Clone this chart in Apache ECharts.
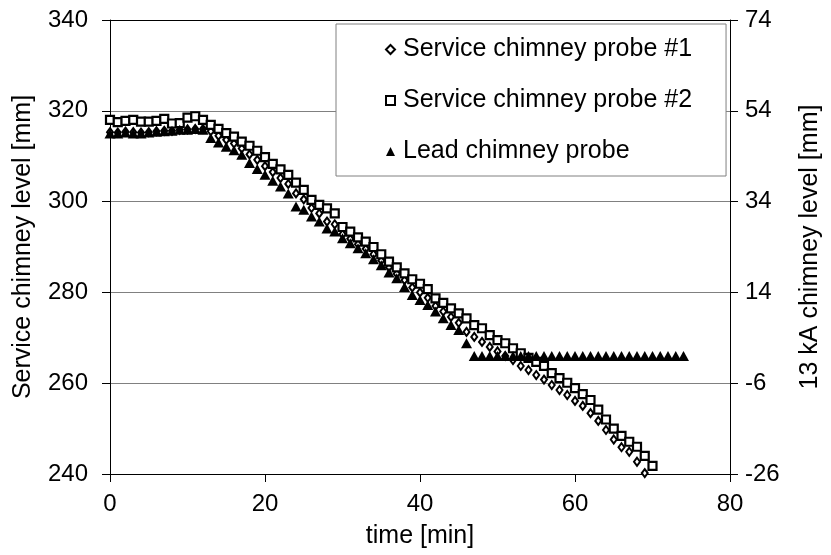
<!DOCTYPE html>
<html>
<head>
<meta charset="utf-8">
<script src="https://cdn.jsdelivr.net/npm/echarts@6/dist/echarts.min.js"></script>
<style>html,body{margin:0;padding:0;background:#fff;}#chart{width:831px;height:555px;}</style>
</head>
<body>
<div id="chart"></div>
<script>
// time [min] for each series
const timeProbe1 = [0,1,2,3,4,5,6,7,8,9,10,11,12,13,14,15,16,17,18,19,20,21,22,23,24,25,26,27,28,29,30,31,32,33,34,35,36,37,38,39,40,41,42,43,44,45,46,47,48,49,50,51,52,53,54,55,56,57,58,59,60,61,62,63,64,65,66,67,68,69];
const timeProbe2 = [0,1,2,3,4,5,6,7,8,9,10,11,12,13,14,15,16,17,18,19,20,21,22,23,24,25,26,27,28,29,30,31,32,33,34,35,36,37,38,39,40,41,42,43,44,45,46,47,48,49,50,51,52,53,54,55,56,57,58,59,60,61,62,63,64,65,66,67,68,69,70];
const timeLead = [0,1,2,3,4,5,6,7,8,9,10,11,12,13,14,15,16,17,18,19,20,21,22,23,24,25,26,27,28,29,30,31,32,33,34,35,36,37,38,39,40,41,42,43,44,45,46,47,48,49,50,51,52,53,54,55,56,57,58,59,60,61,62,63,64,65,66,67,68,69,70,71,72,73,74];

// Service chimney level [mm] (left axis)
const serviceProbe1 = [315.3,315.2,315.4,315.3,315.2,315.3,315.5,315.6,315.6,315.8,315.9,316,316,
  315.5,314.5,313.6,312.8,311.7,310.4,309.2,307.8,306.5,305.2,303.9,301.8,300.5,298.6,297.4,295.6,295,
  292.8,291.8,290.6,289.6,288.4,287,285.5,284.1,282.7,281.1,280,278.8,277,275.8,274.6,273.3,
  271.3,270.2,269.1,268,267,266,265.1,263.8,262.9,261.8,260.8,259.6,258.5,257.4,256.1,255,253.4,251.7,249.7,247.6,245.9,244.9,242.7,240.2];
const serviceProbe2 = [318,317.5,317.8,318,317.6,317.6,317.8,318.2,317.2,317.3,318.5,318.8,318,
  316.9,316,315.1,314.3,313.2,312.3,311.2,309.8,308.3,307.1,305.9,304.2,302.6,300.4,299.3,298.5,297.4,
  294.4,293.4,292.1,291.2,290,288.4,286.8,285.5,284.2,282.9,281.9,280.7,278.7,277.7,276.5,275.4,
  274.3,272.8,272.1,270.6,269.5,268.8,267.7,266.6,265.6,264.7,263.8,262.2,261.1,260.1,258.9,257.6,256.3,254.2,252,250,248.4,247.1,246,244,241.8];
// 13 kA chimney level [mm] (right axis)
const leadProbe = [49,49,49.2,49,49,49.2,49.4,49.5,49.6,49.8,49.8,50,49.8,
  48,47,46.1,45.3,44.3,42.5,41.2,39.9,38.6,37.3,35.8,32.9,32.2,30.7,29.6,28.1,27.4,
  25.9,24.8,23.7,22.6,21.3,20,18.4,17.1,15.2,13.4,12.3,11.2,9.8,8.3,6.8,5.7,2.8,
  0,0,0,0,0,0,0,0,0,0,0,0,0,0,0,0,0,0,0,0,0,0,0,0,0,0,0,0];

const leftTicks = [240,260,280,300,320,340];
const rightTicks = [-26,-6,14,34,54,74];
const xTicks = [0,20,40,60,80];

const names = ['Service chimney probe #1','Service chimney probe #2','Lead chimney probe'];
const FONT = "'Liberation Sans', Arial, sans-serif";

function pairs(t, v){ return t.map((x,i)=>[x, v[i]]); }

const chart = echarts.init(document.getElementById('chart'), null, {renderer:'canvas'});
chart.setOption({
  animation:false,
  backgroundColor:'#fff',
  textStyle:{fontFamily:FONT, color:'#000'},
  grid:{left:110, right:94, top:20, bottom:81},
  legend:{
    orient:'vertical', left:336, top:24,
    padding:[13,34,12,49], itemGap:26, itemWidth:9, itemHeight:9,
    backgroundColor:'#fff', borderColor:'#808080', borderWidth:1,
    textStyle:{fontSize:25, fontFamily:FONT, color:'#000', padding:[0,0,0,3]},
    data:[{name:names[0], icon:'diamond'},{name:names[1], icon:'rect'},{name:names[2], icon:'triangle'}],
    z:10
  },
  xAxis:[{
    type:'value', min:xTicks[0], max:xTicks[xTicks.length-1], interval:20,
    name:'time [min]', nameLocation:'middle', nameGap:50,
    nameTextStyle:{fontSize:25, fontFamily:FONT, color:'#000'},
    axisLine:{show:true, onZero:false, lineStyle:{color:'#000', width:1}},
    axisTick:{show:true, inside:false, length:8, lineStyle:{color:'#000'}},
    axisLabel:{fontSize:24, fontFamily:FONT, color:'#000', margin:18},
    splitLine:{show:false}
  },{
    type:'value', position:'top', min:xTicks[0], max:xTicks[xTicks.length-1], interval:20,
    axisLine:{show:true, onZero:false, lineStyle:{color:'#000', width:1}},
    axisTick:{show:false}, axisLabel:{show:false}, splitLine:{show:false}
  }],
  yAxis:[{
    type:'value', position:'left', min:leftTicks[0], max:leftTicks[leftTicks.length-1], interval:20,
    name:'Service chimney level [mm]', nameLocation:'middle', nameGap:74, nameRotate:90,
    nameTextStyle:{fontSize:25, fontFamily:FONT, color:'#000'},
    axisLine:{show:true, onZero:false, lineStyle:{color:'#000', width:1}},
    axisTick:{show:true, inside:false, length:8, lineStyle:{color:'#000'}},
    axisLabel:{fontSize:24, fontFamily:FONT, color:'#000', margin:22},
    splitLine:{show:true, lineStyle:{color:'#808080', width:1}}
  },{
    type:'value', position:'right', min:rightTicks[0], max:rightTicks[rightTicks.length-1], interval:20,
    name:'13 kA chimney level [mm]', nameLocation:'middle', nameGap:68, nameRotate:90,
    nameTextStyle:{fontSize:25, fontFamily:FONT, color:'#000'},
    axisLine:{show:true, onZero:false, lineStyle:{color:'#000', width:1}},
    axisTick:{show:true, inside:false, length:8, lineStyle:{color:'#000'}},
    axisLabel:{fontSize:24, fontFamily:FONT, color:'#000', margin:15},
    splitLine:{show:false}
  }],
  series:[{
    name:names[0], type:'scatter', xAxisIndex:0, yAxisIndex:0, symbol:'diamond', symbolSize:[6,8],
    itemStyle:{color:'#fff', borderColor:'#000', borderWidth:2, opacity:1},
    data:pairs(timeProbe1, serviceProbe1)
  },{
    name:names[1], type:'scatter', xAxisIndex:0, yAxisIndex:0, symbol:'rect', symbolSize:8,
    itemStyle:{color:'#fff', borderColor:'#000', borderWidth:2.2, opacity:1},
    data:pairs(timeProbe2, serviceProbe2)
  },{
    name:names[2], type:'scatter', xAxisIndex:0, yAxisIndex:1, symbol:'triangle', symbolSize:[11,10],
    itemStyle:{color:'#000', opacity:1},
    data:pairs(timeLead, leadProbe)
  }]
});
</script>
</body>
</html>
